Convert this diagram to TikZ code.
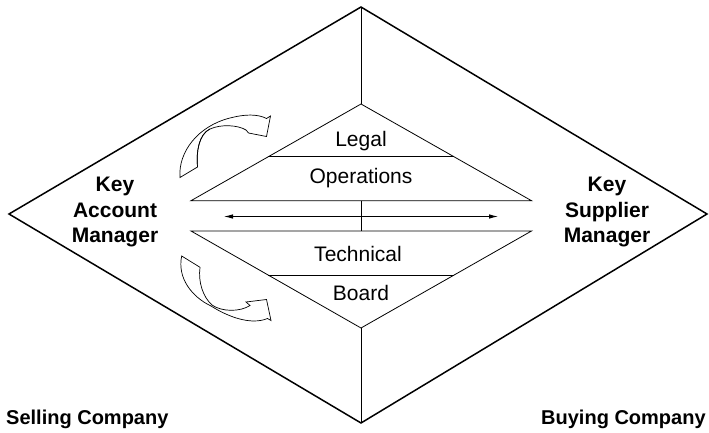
\documentclass[tikz,border=0pt]{standalone}
\usepackage{fontspec}
\setmainfont{Liberation Sans}
\usetikzlibrary{arrows.meta,calc}

\tikzset{
  outerline/.style={line width=1.5pt, line join=miter},
  innerline/.style={line width=0.8pt},
  twistarrow/.style={line width=0.7pt, line join=miter, fill=white},
  layer/.style={font=\fontsize{21}{25}\selectfont, anchor=base, inner sep=0pt},
  manager/.style={font=\fontsize{21}{25.5}\selectfont\bfseries, align=center, inner sep=0pt},
  company/.style={font=\fontsize{20}{24}\selectfont\bfseries, anchor=base west, inner sep=0pt},
}

\begin{document}
\begin{tikzpicture}[x=1pt, y=-1pt]
  \useasboundingbox (0,0) rectangle (709,433);

  % outer diamond
  \coordinate (T) at (361,7);
  \coordinate (L) at (9,214);
  \coordinate (R) at (707,214);
  \coordinate (B) at (361,423);

  % inner pyramids
  \coordinate (iT)  at (361,104);
  \coordinate (iL1) at (191,200.7);
  \coordinate (iR1) at (531.5,200.7);
  \coordinate (iL2) at (191,231);
  \coordinate (iR2) at (531.5,231);
  \coordinate (iB)  at (361,328);
  \coordinate (c1)  at (361,200.7);
  \coordinate (c2)  at (361,231);
  \coordinate (aL)  at (224,216.5);
  \coordinate (aR)  at (498,216.5);

  \draw[outerline] (T) -- (L) -- (B) -- (R) -- cycle;
  \draw[innerline] (T) -- (iT);
  \draw[innerline] (iB) -- (B);

  \draw[innerline] (iT) -- (iL1) -- (iR1) -- cycle;
  \draw[innerline] ($(iT)!0.545!(iL1)$) -- ($(iT)!0.545!(iR1)$);
  \draw[innerline] (iL2) -- (iR2) -- (iB) -- cycle;
  \draw[innerline] ($(iL2)!0.454!(iB)$) -- ($(iR2)!0.454!(iB)$);
  \draw[innerline] (c1) -- (c2);
  \draw[innerline, {Latex[length=9pt,width=4.5pt]}-{Latex[length=9pt,width=4.5pt]}] (aL) -- (aR);

  % layer labels
  \node[layer] (legal) at (361,146.7) {Legal};
  \node[layer] (ops)   at (361,183.3) {Operations};
  \node[layer] (tech)  at (358,261.7) {Technical};
  \node[layer] (board) at (361,300)   {Board};

  % managers
  \node[manager] (kam) at (115,212) {Key\\Account\\Manager};
  \node[manager] (ksm) at (607,212) {Key\\Supplier\\Manager};

  % companies
  \node[company] (sell) at (6,424)   {Selling Company};
  \node[company] (buy)  at (541,424) {Buying Company};

  % twisted ribbon arrow, upper
  \draw[twistarrow]
    (180,177.5) .. controls (178,152) and (198,126) .. (230,118)
    .. controls (245,114) and (258,114) .. (266.5,118.5)
    -- (270.5,116) -- (266.5,136.5) -- (248.5,133) -- (246,130)
    .. controls (238,125) and (221,124) .. (210,129)
    .. controls (199,134) and (196,152) .. (197.5,167)
    -- cycle;
  \draw[line width=0.7pt]
    (210,129) .. controls (199,134) and (196,152) .. (197.5,167);

  % twisted ribbon arrow, lower
  \draw[twistarrow]
    (181.7,256) .. controls (177,278) and (192,297) .. (211,306)
    .. controls (230,318) and (252,325) .. (267.5,318.5)
    -- (271,320.5) -- (266.5,299.5) -- (246,302) -- (250,305.5)
    .. controls (240,312) and (222,312) .. (212,305)
    .. controls (203,297) and (198,282) .. (200,267.3)
    -- cycle;
\end{tikzpicture}
\end{document}
